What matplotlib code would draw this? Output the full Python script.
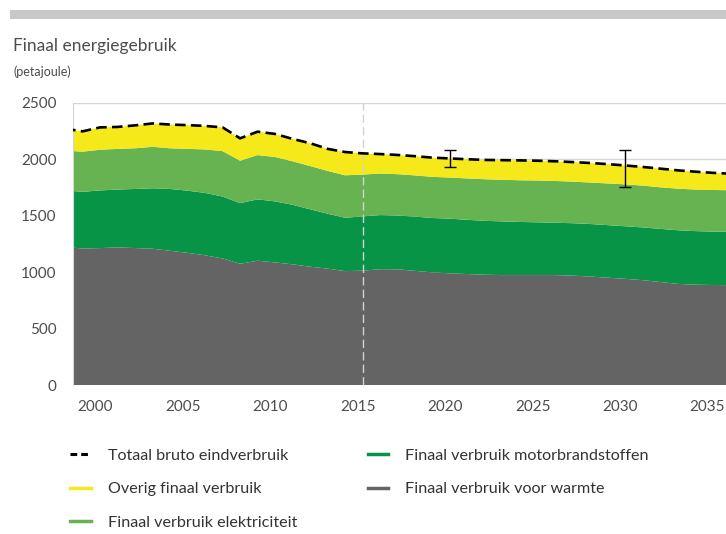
import numpy as np
import matplotlib
matplotlib.use('Agg')
import matplotlib.pyplot as plt
import matplotlib.transforms as mtransforms
from matplotlib.lines import Line2D
from matplotlib.patches import Rectangle

plt.rcParams['font.family'] = ['Lato', 'DejaVu Sans']

# --- Data (petajoule) ---
years = list(range(1998, 2037))

warmte = [1222, 1208, 1212, 1218, 1212, 1206, 1188, 1170, 1148, 1120,
          1073, 1100, 1085, 1068, 1047, 1030, 1008, 1012, 1025, 1024,
          1010, 997, 988, 982, 976, 973, 973, 973, 973, 968,
          960, 950, 940, 928, 912, 895, 888, 885, 884]
motorbrandstoffen = [500, 502, 510, 512, 523, 535, 547, 550, 552, 548,
                     537, 543, 540, 527, 508, 486, 472, 480, 479, 476,
                     480, 481, 484, 480, 477, 475, 470, 467, 463, 464,
                     465, 465, 465, 467, 470, 475, 474, 473, 472]
elektriciteit = [353, 355, 360, 360, 360, 367, 360, 370, 385, 402,
                 375, 392, 393, 385, 383, 379, 376, 370, 368, 366,
                 365, 364, 364, 366, 368, 368, 369, 370, 370, 368,
                 367, 369, 371, 370, 368, 368, 368, 368, 368]
overig = [193, 180, 198, 194, 203, 207, 210, 210, 208, 210,
          198, 207, 204, 198, 202, 195, 206, 188, 172, 170,
          170, 170, 169, 170, 171, 174, 176, 175, 174, 173,
          173, 171, 167, 165, 165, 162, 158, 152, 146]

# uncertainty bands on the total
err_years = [2020, 2030]
err_low = [1932, 1750]
err_high = [2080, 2080]

labels = ['Totaal bruto eindverbruik', 'Overig finaal verbruik',
          'Finaal verbruik elektriciteit', 'Finaal verbruik motorbrandstoffen',
          'Finaal verbruik voor warmte']

c_yellow = '#F5E91A'
c_light = '#67B352'
c_dark = '#079446'
c_grey = '#646464'
text_col = '#4d4d4d'

total = np.array(warmte) + np.array(motorbrandstoffen) + np.array(elektriciteit) + np.array(overig)

fig = plt.figure(figsize=(7.26, 5.34), dpi=100)
ax = fig.add_axes([0.101, 0.279, 0.899, 0.529])

ax.stackplot(years, warmte, motorbrandstoffen, elektriciteit, overig,
             colors=[c_grey, c_dark, c_light, c_yellow], lw=0, zorder=2)
ax.plot(years, total, color='black', lw=1.9, dashes=(4, 2), zorder=4)
ax.axvline(2015, color='#d2d2d2', lw=1, dashes=(6, 3), zorder=3)

tot_at = [total[years.index(y)] for y in err_years]
ax.errorbar(err_years, tot_at,
            yerr=[np.array(tot_at) - np.array(err_low), np.array(err_high) - np.array(tot_at)],
            fmt='none', ecolor='black', elinewidth=1, capsize=4, capthick=1, zorder=5)

ax.set_xlim(1998.47, 2035.77)
ax.set_ylim(0, 2500)
ax.set_xticks(range(2000, 2036, 5))
ax.set_yticks(range(0, 2501, 500))
ax.yaxis.grid(True, color='#d5d5d5', lw=1, zorder=0)
ax.set_axisbelow(True)
ax.tick_params(length=0, labelsize=11, colors=text_col)
ax.tick_params(axis='y', pad=12)
ax.tick_params(axis='x', pad=11)
for s in ['top', 'right', 'bottom']:
    ax.spines[s].set_visible(False)
ax.spines['left'].set_color('#d5d5d5')

# year labels sit a little left of their position, as in the original
shift = mtransforms.ScaledTranslation(-5 / 100, 0, fig.dpi_scale_trans)
for lbl in ax.get_xticklabels():
    lbl.set_transform(lbl.get_transform() + shift)

# header
fig.patches.append(Rectangle((10 / 726, 1 - 19 / 534), 716 / 726, 9 / 534,
                             transform=fig.transFigure, color='#c8c8c8', lw=0))
fig.text(13 / 726, 1 - 46 / 534, 'Finaal energiegebruik', fontsize=12.5,
         color=text_col, va='center')
fig.text(13 / 726, 1 - 72 / 534, '(petajoule)', fontsize=9, color=text_col, va='center')

handles = [Line2D([], [], color='black', lw=2.2, dashes=(2.2, 1.3)),
           Line2D([], [], color=c_yellow, lw=2.5),
           Line2D([], [], color=c_light, lw=2.5),
           Line2D([], [], color=c_dark, lw=2.5),
           Line2D([], [], color=c_grey, lw=2.5)]
fig.legend(handles, labels, ncol=2, loc='upper left',
           bbox_to_anchor=(64 / 726, 1 - 442 / 534), frameon=False,
           fontsize=11.6, labelcolor='#333333', handlelength=1.25,
           handletextpad=1.05, labelspacing=1.2, columnspacing=4.4,
           borderaxespad=0)

plt.savefig('out.png', dpi=100)
